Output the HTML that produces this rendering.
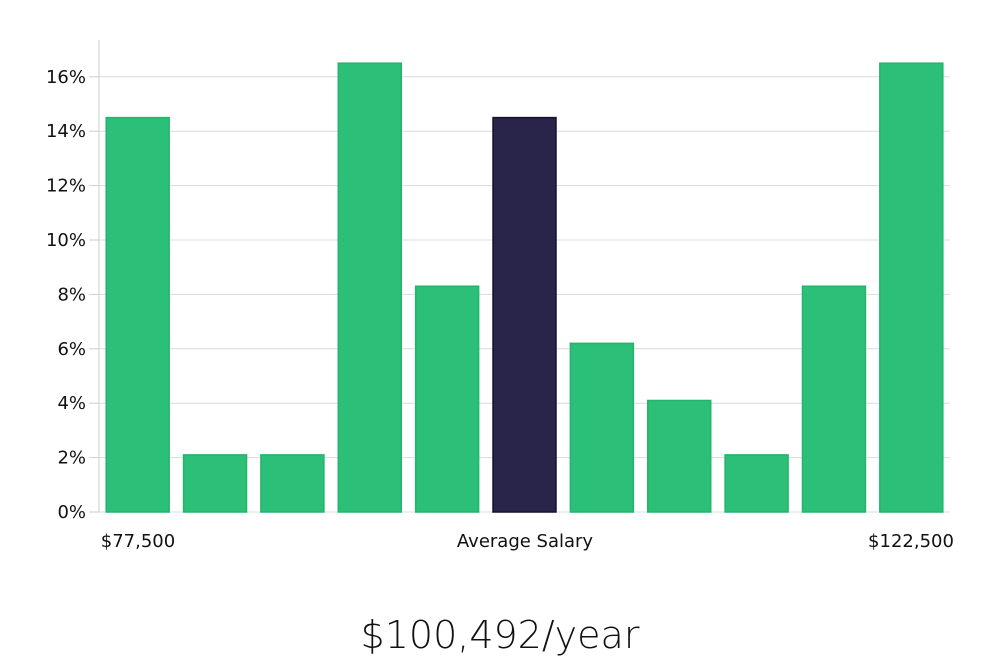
<!DOCTYPE html>
<html><head><meta charset="utf-8"><style>
html,body{margin:0;padding:0;background:#fff;}
svg{display:block;font-family:"DejaVu Sans","Liberation Sans",sans-serif;}
</style></head><body>
<svg id="chart" width="1000" height="660">
<g id="grid"></g>
<g id="yaxis"></g>
<g id="bars"></g>
<text x="138" y="547" text-anchor="middle" font-size="18" fill="#111">$77,500</text>
<text x="525" y="547" text-anchor="middle" font-size="18" fill="#111">Average Salary</text>
<text x="911" y="547" text-anchor="middle" font-size="18" fill="#111">$122,500</text>
<text x="500" y="648" text-anchor="middle" font-size="38" font-weight="300" fill="#111" font-family="'DejaVu Sans','Liberation Sans',sans-serif" style="font-stretch:condensed">$100,492/year</text>
</svg>
<script>
const categories = ["b1","b2","b3","b4","b5","b6","b7","b8","b9","b10","b11"];
const values = [14.5,2.1,2.1,16.5,8.3,14.5,6.2,4.1,2.1,8.3,16.5];
const highlight = [false,false,false,false,false,true,false,false,false,false,false];
const yTicks = [0,2,4,6,8,10,12,14,16];
const yTickLabels = ["0%","2%","4%","6%","8%","10%","12%","14%","16%"];

const NS="http://www.w3.org/2000/svg";
const x0=99,x1=950,y0=512,yPer=27.2;
const y=v=>y0-v*yPer;
const band=(x1-x0)/categories.length;
const bw=band*0.814;
function mk(t,a,p){const e=document.createElementNS(NS,t);for(const k in a)e.setAttribute(k,a[k]);p.appendChild(e);return e;}
const grid=document.getElementById('grid'),ya=document.getElementById('yaxis'),bars=document.getElementById('bars');
yTicks.forEach((t,i)=>{
  const g=mk('line',{x1:x0,x2:x1,y1:y(t),y2:y(t),stroke:'#dcdcdc','stroke-width':1},grid);
  
  
  const tk=mk('line',{x1:89,x2:x0,y1:y(t),y2:y(t),stroke:'#ccc','stroke-width':1},ya);
  
  
  const l=mk('text',{x:86,y:y(t)+6,'text-anchor':'end','font-size':18,fill:'#111'},ya);
  l.textContent=yTickLabels[i];
  
  
});
const ax=mk('line',{x1:x0,x2:x0,y1:40,y2:y0,stroke:'#ccc','stroke-width':1},ya);


categories.forEach((c,i)=>{
  const bx=x0+i*band+(band-bw)/2;
  const r=mk('rect',{x:bx,y:y(values[i]),width:bw,height:y0-y(values[i]),
    fill:highlight[i]?'#29244a':'#2bbf77',stroke:highlight[i]?'#15122e':'#22b56b','stroke-width':1.5},bars);
  
  
});
</script>
</body></html>
